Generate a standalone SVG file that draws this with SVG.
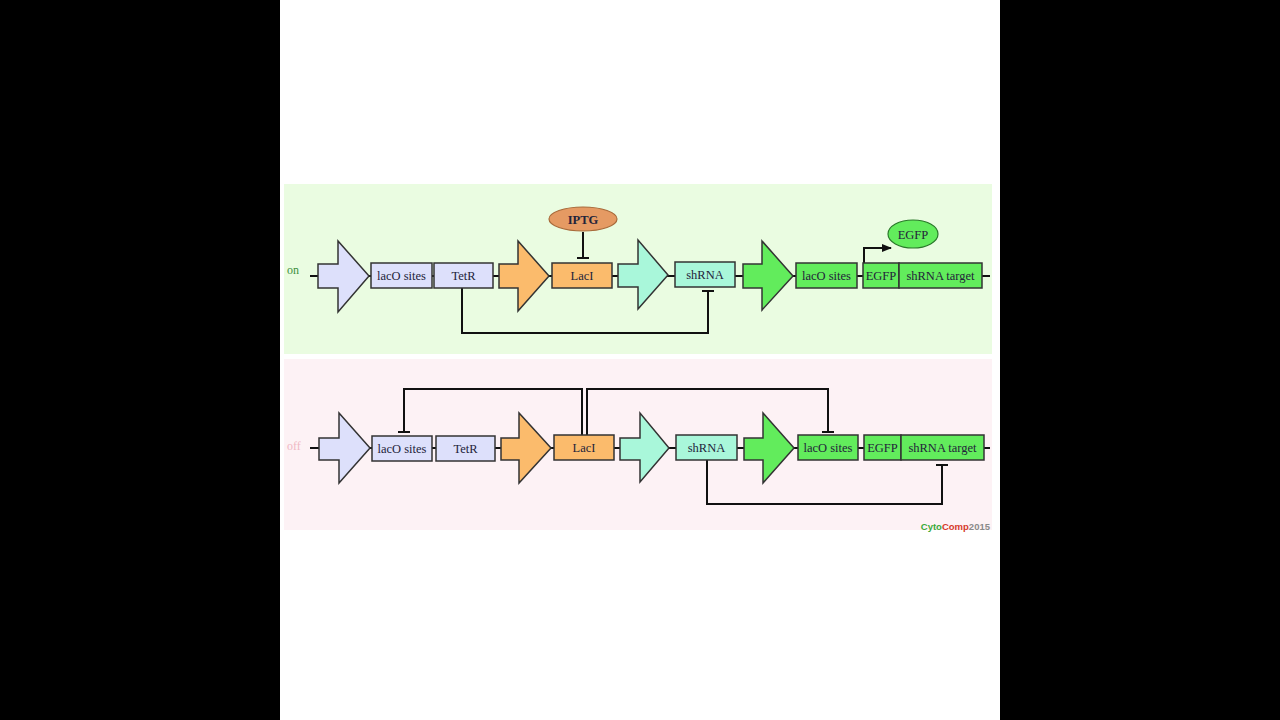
<svg xmlns="http://www.w3.org/2000/svg" width="1280" height="720" viewBox="0 0 1280 720">
<style>
.part{stroke:#333;stroke-width:1.5;stroke-linejoin:miter}
.lav{fill:#dde0fb}.org{fill:#fbbb6c}.teal{fill:#a9f7da}.grn{fill:#62ec5c}
.lbl{font-family:"Liberation Serif",serif;font-size:12.5px;fill:#23233a;text-anchor:middle}
.wire{stroke:#111;stroke-width:2;fill:none}
.reg{stroke:#111;stroke-width:2;fill:none}
</style>
<defs>
<marker id="arr" markerWidth="10" markerHeight="8" refX="9" refY="4" orient="auto" markerUnits="userSpaceOnUse">
<path d="M0,0 L10,4 L0,8 z" fill="#111"/>
</marker>
</defs>
<rect x="0" y="0" width="1280" height="720" fill="#000"/>
<rect x="280" y="0" width="720" height="720" fill="#fff"/>
<rect x="284" y="184" width="708" height="170" fill="#eafce1"/>
<rect x="284" y="359" width="708" height="171" fill="#fdf2f5"/>
<text x="287" y="274" font-family="Liberation Serif,serif" font-size="12" fill="#3d8f3d">on</text>
<text x="287" y="450" font-family="Liberation Serif,serif" font-size="12" fill="#f0b8c4">off</text>

<g id="connectors">
<line class="wire" x1="310" y1="276" x2="990" y2="276"/>
<line class="wire" x1="310" y1="448" x2="990" y2="448"/>
<path class="reg" d="M583,232 V258 M577,258 H589"/>
<path class="reg" d="M462,288 V333 H708 V291 M702,291 H714"/>
<path class="reg" d="M864,263 V248 H891" marker-end="url(#arr)"/>
<path class="reg" d="M582,435 V389 H404 V432 M398,432 H410"/>
<path class="reg" d="M587,435 V389 H828 V432 M822,432 H834"/>
<path class="reg" d="M707,460 V504 H942 V465 M936,465 H948"/>
</g>

<g id="on-promoter1"><path class="part lav" d="M318,264 H338 V241 L369,276 L338,312 V288 H318 Z"/></g>
<g id="on-laco1"><rect class="part lav" x="371" y="263" width="61" height="25"/><text class="lbl" x="401.5" y="280">lacO sites</text></g>
<g id="on-tetr"><rect class="part lav" x="434" y="263" width="59" height="25"/><text class="lbl" x="463.5" y="280">TetR</text></g>
<g id="on-promoter2"><path class="part org" d="M499,264 H518 V241 L549,276 L518,311 V288 H499 Z"/></g>
<g id="on-laci"><rect class="part org" x="552" y="263" width="60" height="25"/><text class="lbl" x="582" y="280">LacI</text></g>
<g id="on-iptg"><ellipse cx="583" cy="219" rx="34" ry="12" fill="#e59a63" stroke="#a86a3a" stroke-width="1.2"/><text x="583" y="223.5" font-family="Liberation Serif,serif" font-size="12.5" font-weight="bold" fill="#23233a" text-anchor="middle">IPTG</text></g>
<g id="on-promoter3"><path class="part teal" d="M618,264 H638 V240 L668,275 L638,309 V287 H618 Z"/></g>
<g id="on-shrna"><rect class="part teal" x="675" y="262" width="60" height="25"/><text class="lbl" x="705" y="279">shRNA</text></g>
<g id="on-promoter4"><path class="part grn" d="M743,264 H762 V241 L793,276 L762,310 V288 H743 Z"/></g>
<g id="on-laco2"><rect class="part grn" x="796" y="263" width="61" height="25"/><text class="lbl" x="826.5" y="280">lacO sites</text></g>
<g id="on-egfp"><rect class="part grn" x="863" y="263" width="36" height="25"/><text class="lbl" x="881" y="280">EGFP</text></g>
<g id="on-target"><rect class="part grn" x="899" y="263" width="83" height="25"/><text class="lbl" x="940.5" y="280">shRNA target</text></g>
<g id="on-egfp-protein"><ellipse cx="913" cy="234" rx="25" ry="14" fill="#62ec5c" stroke="#2a7a2a" stroke-width="1.2"/><text class="lbl" x="913" y="238.5">EGFP</text></g>

<g id="off-promoter1"><path class="part lav" d="M319,438 H339 V413 L370,448 L339,483 V460 H319 Z"/></g>
<g id="off-laco1"><rect class="part lav" x="372" y="436" width="60" height="25"/><text class="lbl" x="402" y="453">lacO sites</text></g>
<g id="off-tetr"><rect class="part lav" x="436" y="436" width="59" height="25"/><text class="lbl" x="465.5" y="453">TetR</text></g>
<g id="off-promoter2"><path class="part org" d="M501,438 H519 V413 L551,448 L519,483 V460 H501 Z"/></g>
<g id="off-laci"><rect class="part org" x="554" y="435" width="60" height="25"/><text class="lbl" x="584" y="452">LacI</text></g>
<g id="off-promoter3"><path class="part teal" d="M620,438 H640 V413 L669,448 L640,482 V460 H620 Z"/></g>
<g id="off-shrna"><rect class="part teal" x="676" y="435" width="61" height="25"/><text class="lbl" x="706.5" y="452">shRNA</text></g>
<g id="off-promoter4"><path class="part grn" d="M744,438 H763 V413 L794,448 L763,483 V460 H744 Z"/></g>
<g id="off-laco2"><rect class="part grn" x="798" y="435" width="60" height="25"/><text class="lbl" x="828" y="452">lacO sites</text></g>
<g id="off-egfp"><rect class="part grn" x="864" y="435" width="37" height="25"/><text class="lbl" x="882.5" y="452">EGFP</text></g>
<g id="off-target"><rect class="part grn" x="901" y="435" width="83" height="25"/><text class="lbl" x="942.5" y="452">shRNA target</text></g>

<text x="990" y="530" font-family="Liberation Sans,sans-serif" font-size="9.5" font-weight="bold" text-anchor="end"><tspan fill="#3aaa3a">Cyto</tspan><tspan fill="#d63a2a">Comp</tspan><tspan fill="#8a8a8a">2015</tspan></text>
</svg>
